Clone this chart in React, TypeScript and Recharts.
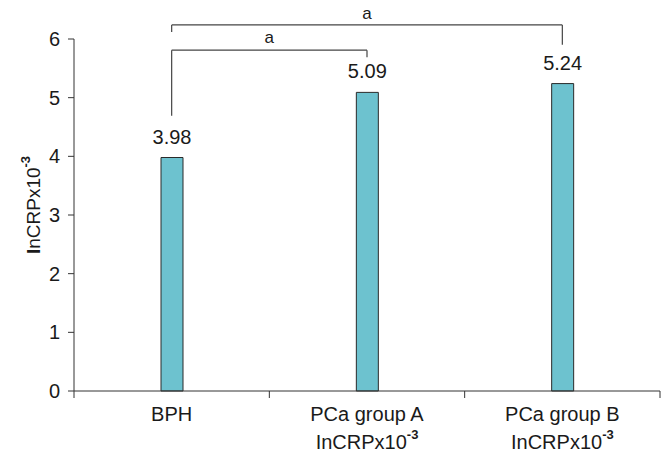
import { BarChart, Bar, XAxis, YAxis, LabelList, ReferenceLine } from "recharts"

const groups = ["BPH", "PCa group A", "PCa group B"]
const subLabels = ["", "InCRPx10", "InCRPx10"]
const values = [3.98, 5.09, 5.24]
const yTicks = [0, 1, 2, 3, 4, 5, 6]

// significance brackets: from group, to group, bar height, left drop, right drop, text
const brFrom = ["BPH", "BPH"]
const brTo = ["PCa group A", "PCa group B"]
const brY = [5.81, 6.24]
const brLeftEnd = [4.69, 6.12]
const brRightEnd = [5.69, 5.9]
const brText = ["a", "a"]
const brTextY = [6.02, 6.43]

const font = "'Liberation Sans', Arial, sans-serif"
const plotLeft = 74
const plotTop = 39
const plotBottom = 391
const band = (660 - plotLeft) / 3

const data = groups.map((g, i) => ({ name: g, value: values[i] }))

function XTick(props: any) {
    const { x, y, payload, index } = props
    const i = groups.indexOf(payload.value)
    return (
        <g>
            <line x1={x - band / 2} y1={y - 8} x2={x - band / 2} y2={y - 1} stroke="#333" />
            {index === groups.length - 1 && (
                <line x1={x + band / 2} y1={y - 8} x2={x + band / 2} y2={y - 1} stroke="#333" />
            )}
            <text x={x} y={y + 22} textAnchor="middle" fontSize={20} fill="#1a1a1a" fontFamily={font}>
                {payload.value}
            </text>
            {subLabels[i] && (
                <text x={x} y={y + 50} textAnchor="middle" fontSize={20} fill="#1a1a1a" fontFamily={font}>
                    {subLabels[i]}
                    <tspan dy={-10} fontSize={13} fontWeight="bold">-3</tspan>
                </text>
            )}
        </g>
    )
}

function YLabel() {
    return (
        <text x={0} y={0} transform="translate(40,205) rotate(-90)" textAnchor="middle" fontSize={19} fill="#1a1a1a" fontFamily={font}>
            <tspan fontWeight="bold">I</tspan>nCRPx10
            <tspan dy={-10} fontSize={13} fontWeight="bold">-3</tspan>
        </text>
    )
}

export default function App() {
    return (
        <div style={{ position: 'absolute', left: 0, top: 0 }}>
            <BarChart width={670} height={455} data={data} margin={{ top: plotTop, right: 10, left: 14, bottom: 10 }}>
                <XAxis dataKey="name" height={455 - plotBottom - 10} tickLine={false} axisLine={{ stroke: '#333' }} tick={<XTick />} interval={0} />
                <YAxis
                    domain={[0, 6]}
                    ticks={yTicks}
                    width={60}
                    tickSize={6}
                    tickMargin={8}
                    axisLine={{ stroke: '#333' }}
                    tickLine={{ stroke: '#333' }}
                    tick={{ fontSize: 20, fill: '#1a1a1a', fontFamily: font }}
                    label={<YLabel />}
                />
                <Bar dataKey="value" fill="#6DC2CF" stroke="#2a2a2a" strokeWidth={1} barSize={22} isAnimationActive={false}>
                    <LabelList dataKey="value" position="top" offset={14} fontSize={20} fill="#1a1a1a" fontFamily={font} formatter={(v: any) => v.toFixed(2)} />
                </Bar>
                {brFrom.map((f, i) => (
                    <g key={`br-${i}`}>
                        <ReferenceLine segment={[{ x: f, y: brY[i] }, { x: brTo[i], y: brY[i] }]} stroke="#444" strokeWidth={1.2} ifOverflow="visible" />
                        <ReferenceLine segment={[{ x: f, y: brLeftEnd[i] }, { x: f, y: brY[i] }]} stroke="#444" strokeWidth={1.2} ifOverflow="visible" />
                        <ReferenceLine segment={[{ x: brTo[i], y: brRightEnd[i] }, { x: brTo[i], y: brY[i] }]} stroke="#444" strokeWidth={1.2} ifOverflow="visible" />
                    </g>
                ))}
            </BarChart>
            {/* bracket texts, centred over each bracket */}
            <svg width={670} height={455} style={{ position: 'absolute', left: 0, top: 0, pointerEvents: 'none' }}>
                {brText.map((t, i) => {
                    const x1 = plotLeft + band * (groups.indexOf(brFrom[i]) + 0.5)
                    const x2 = plotLeft + band * (groups.indexOf(brTo[i]) + 0.5)
                    const yy = plotBottom - brTextY[i] * ((plotBottom - plotTop) / 6)
                    return (
                        <text key={`bt-${i}`} x={(x1 + x2) / 2} y={yy + 5} textAnchor="middle" fontSize={17} fill="#1a1a1a" fontFamily={font}>
                            {t}
                        </text>
                    )
                })}
            </svg>
        </div>
    )
}
